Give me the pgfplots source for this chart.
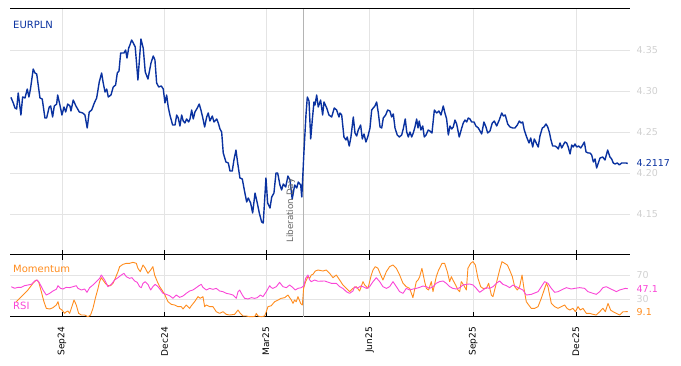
\documentclass[border=0pt]{standalone}
\usepackage{pgfplots}
\pgfplotsset{compat=1.18}
\usepackage{pgfplotstable}
\usepackage{fontspec}
\setmainfont{DejaVu Sans}
\definecolor{fxblue}{RGB}{10,50,160}
\definecolor{momcol}{RGB}{255,140,30}
\definecolor{rsicol}{RGB}{250,70,215}
\definecolor{lblgray}{RGB}{208,208,208}
\definecolor{gridgray}{RGB}{228,228,228}
\definecolor{libgray}{RGB}{180,180,180}
\definecolor{libtext}{RGB}{100,100,100}

% x = days since 1 Sep 2024
\pgfplotstableread{
d p
-45.3 4.2923
-43.2 4.2854
-41.7 4.2793
-40.2 4.2780
-38.8 4.2976
-36.4 4.2707
-34.9 4.2927
-32.8 4.2915
-30.8 4.3024
-29.3 4.2927
-27.8 4.3037
-25.5 4.3268
-24.0 4.3220
-22.4 4.3207
-19.5 4.2915
-17.5 4.2902
-15.1 4.2671
-13.6 4.2671
-11.3 4.2805
-10.0 4.2817
-8.3 4.2683
-6.8 4.2817
-4.7 4.2841
-3.8 4.2951
-1.8 4.2829
0.0 4.2707
1.8 4.2805
3.3 4.2744
5.1 4.2841
7.1 4.2817
8.0 4.2756
10.0 4.2890
12.4 4.2817
15.4 4.2744
18.4 4.2732
20.4 4.2707
22.4 4.2549
24.2 4.2744
26.4 4.2768
28.7 4.2854
30.8 4.2915
33.1 4.3110
35.2 4.3220
36.6 4.3098
38.2 4.2988
39.7 4.3024
41.1 4.2927
43.5 4.2951
45.5 4.3049
47.6 4.3073
49.1 4.3220
50.6 4.3244
52.1 4.3463
53.5 4.3463
55.0 4.3463
56.5 4.3500
57.7 4.3402
59.2 4.3524
60.3 4.3561
61.8 4.3622
63.3 4.3585
65.0 4.3537
67.4 4.3134
70.1 4.3634
72.1 4.3524
73.9 4.3232
76.3 4.3146
79.0 4.3341
81.0 4.3427
82.5 4.3378
84.0 4.3098
85.8 4.3049
88.1 4.3061
89.9 4.3024
91.4 4.2854
92.9 4.2951
94.3 4.2805
95.8 4.2707
98.2 4.2585
100.3 4.2585
101.8 4.2707
103.2 4.2671
104.7 4.2573
106.2 4.2707
107.6 4.2634
109.1 4.2610
110.6 4.2659
112.4 4.2622
113.6 4.2659
115.1 4.2768
116.5 4.2659
118.0 4.2744
120.1 4.2793
121.8 4.2841
123.3 4.2768
124.8 4.2683
126.6 4.2561
128.4 4.2683
129.8 4.2732
131.3 4.2634
133.4 4.2695
134.9 4.2622
137.3 4.2659
138.7 4.2610
140.2 4.2537
141.7 4.2500
143.1 4.2244
145.5 4.2134
147.6 4.2122
149.1 4.2024
151.1 4.2024
152.6 4.2159
154.4 4.2280
155.9 4.2122
157.9 4.1939
160.0 4.1927
161.8 4.1793
163.9 4.1646
165.3 4.1695
167.4 4.1634
169.2 4.1512
171.3 4.1756
173.3 4.1634
175.1 4.1512
177.2 4.1402
178.6 4.1390
181.0 4.1939
182.5 4.1634
184.6 4.1573
186.1 4.1707
188.1 4.1756
189.9 4.2000
191.4 4.2000
193.4 4.1854
194.9 4.1793
196.4 4.1866
198.5 4.1829
200.5 4.1963
202.3 4.1915
204.3 4.1683
206.5 4.1854
208.3 4.1817
209.7 4.1890
211.8 4.1854
212.8 4.1707
214.7 4.2256
216.5 4.2707
217.7 4.2927
219.2 4.2878
220.7 4.2415
222.1 4.2646
223.6 4.2866
224.5 4.2829
226.0 4.2951
227.4 4.2805
229.5 4.2890
231.3 4.2707
232.5 4.2866
234.9 4.2793
236.9 4.2707
239.3 4.2683
241.6 4.2793
243.7 4.2768
245.8 4.2683
246.7 4.2732
248.2 4.2707
250.2 4.2439
252.0 4.2402
253.1 4.2439
254.9 4.2329
256.4 4.2439
258.5 4.2683
260.0 4.2488
261.5 4.2451
262.9 4.2524
265.0 4.2585
266.5 4.2415
268.0 4.2476
269.7 4.2378
271.3 4.2439
273.3 4.2549
274.8 4.2768
276.2 4.2793
277.7 4.2817
279.2 4.2866
280.7 4.2732
282.2 4.2561
283.7 4.2549
285.1 4.2671
287.2 4.2707
289.0 4.2768
291.0 4.2756
292.5 4.2683
294.0 4.2720
295.5 4.2549
297.5 4.2463
299.3 4.2439
301.4 4.2463
302.8 4.2537
304.6 4.2659
305.9 4.2500
307.3 4.2439
308.8 4.2500
310.3 4.2439
311.7 4.2488
313.2 4.2561
314.7 4.2659
315.9 4.2549
317.0 4.2634
318.5 4.2524
320.1 4.2573
321.5 4.2439
323.0 4.2463
325.0 4.2524
326.5 4.2512
328.3 4.2488
330.4 4.2768
332.5 4.2732
334.5 4.2756
336.3 4.2707
338.3 4.2817
339.8 4.2732
341.3 4.2659
342.8 4.2463
344.3 4.2573
345.8 4.2537
347.2 4.2561
348.7 4.2646
350.2 4.2598
352.5 4.2439
354.7 4.2549
356.1 4.2610
357.6 4.2646
359.1 4.2622
360.5 4.2671
362.0 4.2659
363.5 4.2622
365.6 4.2622
367.3 4.2573
369.4 4.2549
372.4 4.2476
374.4 4.2622
376.2 4.2561
377.7 4.2488
379.8 4.2512
381.8 4.2610
383.6 4.2634
385.7 4.2573
388.0 4.2646
390.2 4.2732
391.6 4.2695
393.3 4.2707
395.5 4.2598
397.5 4.2561
399.9 4.2549
401.9 4.2549
404.0 4.2585
405.8 4.2634
407.3 4.2610
408.8 4.2622
410.2 4.2524
412.3 4.2439
414.4 4.2366
415.9 4.2427
417.7 4.2317
419.1 4.2415
421.2 4.2354
422.6 4.2317
424.1 4.2451
426.2 4.2549
427.7 4.2561
429.5 4.2598
431.0 4.2561
432.4 4.2500
433.9 4.2402
435.4 4.2329
437.4 4.2329
438.9 4.2317
440.4 4.2293
441.9 4.2366
443.4 4.2305
444.8 4.2341
446.3 4.2378
447.8 4.2366
449.2 4.2317
450.8 4.2232
452.3 4.2341
453.7 4.2317
455.2 4.2354
456.7 4.2317
458.5 4.2329
460.3 4.2305
462.0 4.2341
463.5 4.2378
465.0 4.2256
467.0 4.2244
468.5 4.2244
470.0 4.2220
471.5 4.2134
473.0 4.2171
474.4 4.2061
475.9 4.2122
477.4 4.2183
479.8 4.2195
481.8 4.2159
484.2 4.2280
486.2 4.2195
487.7 4.2171
489.2 4.2122
490.7 4.2110
492.7 4.2122
494.5 4.2098
496.6 4.2122
498.7 4.2122
500.4 4.2122
502.0 4.2117
}\pricetable

\pgfplotstableread{
d v
-44.9 50.5
-42.0 47.8
-39.0 49.4
-36.1 49.4
-33.1 52.2
-30.2 53.3
-27.2 54.4
-24.2 60.0
-21.9 61.6
-19.8 56.1
-16.8 45.0
-13.9 36.6
-10.9 39.4
-8.0 43.3
-5.0 46.1
-3.5 52.2
-1.2 47.7
0.9 46.6
3.8 49.4
6.8 48.9
9.8 50.5
12.7 52.2
14.2 47.7
17.2 45.0
20.1 46.6
22.2 41.1
24.6 48.9
27.5 53.3
30.5 58.9
33.4 64.4
34.9 70.0
37.9 61.6
40.8 50.5
43.8 54.4
46.7 61.6
49.7 65.5
52.7 70.0
55.0 72.7
57.1 67.2
60.0 64.4
62.1 65.5
64.5 60.0
66.8 57.7
68.9 50.5
70.4 48.9
71.9 56.1
73.9 58.9
76.3 54.4
78.7 45.0
80.7 50.5
82.8 54.4
85.2 50.5
87.5 45.0
89.6 39.4
92.6 37.7
95.5 35.5
98.5 31.1
101.5 36.6
104.4 32.7
107.4 35.0
110.3 39.4
113.3 43.3
116.2 45.0
119.2 48.9
121.6 52.2
123.6 54.4
125.1 49.4
128.1 45.0
131.0 47.7
134.0 46.1
136.9 47.7
139.9 43.3
142.9 42.2
145.8 39.4
148.8 38.3
151.7 36.6
154.7 31.1
156.2 42.2
157.7 45.0
160.0 36.6
162.1 31.1
165.1 30.0
168.0 32.2
171.0 31.1
173.3 32.2
176.0 36.6
178.4 33.9
181.3 42.2
184.3 52.2
185.7 48.9
187.2 47.7
190.2 50.5
193.1 57.7
196.1 50.5
199.1 48.9
202.0 53.3
205.0 48.9
207.0 45.0
209.4 47.7
212.4 48.9
214.7 52.2
216.2 64.4
218.3 70.0
219.8 61.6
221.2 58.9
224.2 61.6
227.2 59.5
233.1 60.0
239.0 56.1
243.4 56.1
246.4 50.5
249.3 47.7
252.3 42.2
255.2 39.4
258.2 43.3
259.7 50.5
262.1 47.7
265.0 51.6
267.1 50.5
270.0 47.7
273.0 50.5
276.0 58.9
278.9 65.5
281.9 58.9
284.8 50.5
287.8 47.7
290.7 50.5
293.7 58.9
296.7 50.5
299.6 42.2
302.6 39.4
305.5 47.7
308.5 45.0
311.4 46.6
314.4 47.7
317.4 49.4
320.3 51.6
323.3 50.5
326.2 47.7
329.2 50.5
332.1 56.1
335.1 58.9
338.1 60.0
341.0 56.1
344.0 50.5
346.9 47.7
349.9 46.6
352.9 48.9
355.8 53.3
358.8 54.4
361.7 55.0
364.7 53.3
367.6 47.7
370.6 41.1
373.6 45.0
376.5 48.9
379.5 47.7
382.4 50.5
385.4 56.1
388.3 60.0
391.3 54.4
394.3 52.2
397.2 48.9
400.2 53.3
403.1 50.5
406.1 47.7
409.0 45.0
412.0 36.6
416.4 37.7
422.4 42.2
428.3 58.9
431.2 56.1
434.2 47.7
437.2 41.1
440.1 42.2
443.1 45.0
447.5 48.9
451.9 46.6
454.9 47.7
459.3 48.9
463.8 47.7
466.7 42.2
471.2 39.4
474.1 37.7
477.1 42.2
480.0 48.9
483.0 50.5
485.9 47.7
488.9 45.0
491.9 42.2
494.8 45.0
497.8 46.6
500.0 47.7
502.0 47.1
}\rsitable

\pgfplotstableread{
d v
-40.5 25.5
-34.6 36.6
-30.2 45.0
-25.7 56.1
-22.8 61.6
-20.7 58.9
-18.3 42.2
-16.0 25.5
-13.9 14.4
-10.9 13.3
-8.0 15.5
-5.0 20.0
-3.5 25.5
-2.1 14.4
0.0 11.6
2.4 6.1
3.9 8.8
5.3 10.0
6.8 6.1
8.3 14.4
10.7 28.3
12.7 20.0
14.8 6.1
17.2 3.3
20.1 3.3
23.1 0.5
25.4 3.3
27.5 14.4
29.6 31.1
32.0 47.7
33.4 58.9
34.9 65.5
36.4 61.6
38.5 56.1
40.8 52.2
43.2 52.2
45.3 56.1
47.3 64.4
49.7 75.5
51.2 83.9
54.1 87.7
57.1 89.4
60.0 89.4
63.0 91.1
66.0 89.4
67.4 81.1
69.5 75.5
71.9 86.6
74.0 81.1
76.3 72.7
78.7 78.3
80.7 83.9
82.2 70.0
84.6 58.9
86.7 50.5
88.7 45.0
91.1 37.7
94.1 25.5
97.0 21.1
100.0 20.0
103.0 17.2
105.9 17.2
107.4 13.3
110.3 20.0
113.3 14.4
114.8 18.8
117.7 25.5
120.7 33.9
122.7 31.1
125.1 33.9
126.6 17.2
128.1 20.0
131.0 17.2
134.0 17.2
136.9 8.8
139.9 6.1
142.9 8.8
145.8 4.4
148.8 3.3
153.2 4.4
156.2 11.6
158.2 6.1
160.6 1.6
163.6 1.6
166.5 0.5
169.5 0.5
171.6 1.6
172.4 6.1
173.9 1.6
176.9 0.5
179.8 1.6
181.3 8.8
182.8 17.2
185.7 18.8
188.7 25.5
191.7 28.3
194.6 31.1
197.6 32.2
200.5 36.6
203.5 28.3
205.0 22.7
206.4 28.3
207.9 25.5
209.4 33.9
211.8 22.7
213.3 20.0
214.4 47.7
216.2 58.9
218.3 67.2
219.8 64.4
221.2 70.0
222.7 71.1
224.8 76.6
227.2 78.3
231.6 76.6
234.5 78.3
237.5 72.7
240.5 65.5
243.4 70.0
246.4 61.6
249.3 53.3
252.3 47.7
255.2 42.2
258.2 47.7
261.2 50.5
264.1 43.3
267.1 58.9
268.6 53.3
271.5 47.7
274.5 70.0
276.0 78.3
278.0 83.9
280.4 81.1
282.8 70.0
284.8 61.6
287.8 75.5
290.7 83.9
293.7 86.6
296.7 81.1
299.6 70.0
302.6 56.1
305.5 50.5
308.5 47.7
311.4 32.2
314.4 58.9
315.9 61.6
317.4 67.2
319.4 81.1
321.8 58.9
323.3 47.7
325.3 45.0
327.7 58.9
329.2 42.2
332.1 67.2
334.2 78.3
337.2 89.4
339.5 89.4
341.9 75.5
344.0 58.9
345.5 67.2
346.9 61.6
349.3 53.3
351.4 45.0
352.9 42.2
354.3 58.9
356.4 53.3
358.8 45.0
360.2 81.1
362.6 89.4
364.7 92.2
366.8 86.6
369.1 64.4
371.5 50.5
373.6 47.7
376.5 47.7
378.6 56.1
381.0 36.6
382.4 33.9
385.4 56.1
388.3 78.3
390.4 92.2
392.8 89.4
395.2 86.6
397.2 78.3
399.6 67.2
401.7 50.5
404.0 45.0
406.1 50.5
408.2 70.0
409.9 47.7
412.0 25.5
414.1 20.0
416.4 14.4
419.4 14.4
422.4 17.2
425.3 31.1
428.3 47.7
429.8 56.1
431.2 50.5
434.2 22.7
437.2 17.2
440.1 14.4
443.1 17.2
446.0 20.0
448.1 14.4
450.5 11.6
453.4 14.4
455.5 8.8
457.9 17.2
459.9 11.6
462.3 14.4
465.2 6.1
468.2 6.1
471.2 4.4
474.1 3.3
477.1 8.8
480.0 14.4
482.1 8.8
484.5 22.7
486.8 11.6
488.9 8.8
491.9 6.1
494.8 3.3
497.8 8.8
500.0 8.8
502.0 9.1
}\momtable

\begin{document}
\begin{tikzpicture}[x=1pt,y=1pt]
\useasboundingbox (0,0) rectangle (681,366);
% ---------- main panel ----------
\begin{axis}[
  at={(10pt,111pt)}, anchor=south west,
  scale only axis, width=620pt, height=246pt,
  xmin=-46.1, xmax=504, ymin=4.10, ymax=4.40,
  clip=false,
  separate axis lines,
  y axis line style={draw=none},
  x axis line style={black, line width=1pt},
  xtick={0,91,181,273,365,456}, xticklabels={},
  xtick pos=bottom, tick align=inside,
  major tick length=5pt,
  xtick style={black, line width=0.8pt},
  ytick={4.15,4.20,4.25,4.30,4.35},
  yticklabels={4.15,4.20,4.25,4.30,4.35},
  yticklabel pos=right,
  ytick style={draw=none},
  yticklabel style={font=\fontsize{9.5}{11}\selectfont, text=lblgray, inner sep=0pt, anchor=west, xshift=6.5pt},
  xmajorgrids, ymajorgrids,
  grid style={gridgray, line width=0.8pt},
]
\addplot[libgray, line width=0.8pt] coordinates {(213.9,4.10) (213.9,4.40)};
\addplot[fxblue, line width=1.4pt, line join=round] table[x=d, y=p] {\pricetable};
\node[rotate=90, anchor=base west, inner sep=0pt, text=libtext, font=\fontsize{8.8}{10}\selectfont] at (axis cs:205,4.1146) {Liberation Day};
\node[anchor=west, inner sep=0pt, text=fxblue, font=\fontsize{9.5}{11}\selectfont, xshift=6.5pt] at (axis cs:504,4.2117) {4.2117};
\end{axis}
% ---------- indicator panel ----------
\begin{axis}[
  at={(10pt,49pt)}, anchor=south west,
  scale only axis, width=620pt, height=62pt,
  xmin=-46.1, xmax=504, ymin=0, ymax=103.3,
  clip=false,
  separate axis lines,
  y axis line style={draw=none},
  x axis line style={black, line width=1pt},
  xtick={0,91,181,273,365,456},
  xticklabels={Sep24,Dec24,Mar25,Jun25,Sep25,Dec25},
  xtick pos=both, tick align=inside,
  major tick length=5pt,
  xtick style={black, line width=0.8pt},
  xticklabel style={font=\fontsize{9}{11}\selectfont, rotate=90, anchor=east, inner sep=0pt},
  xticklabel shift=10pt,
  ytick={30,70},
  yticklabels={30,70},
  yticklabel pos=right,
  ytick style={draw=none},
  yticklabel style={font=\fontsize{9.5}{11}\selectfont, text=lblgray, inner sep=0pt, anchor=west, xshift=6.5pt},
  xmajorgrids, ymajorgrids,
  grid style={gridgray, line width=0.8pt},
]
\addplot[libgray, line width=0.8pt] coordinates {(213.9,0) (213.9,103.3)};
\addplot[momcol, line width=0.9pt, line join=round] table[x=d, y=v] {\momtable};
\addplot[rsicol, line width=0.9pt, line join=round] table[x=d, y=v] {\rsitable};
\node[anchor=west, inner sep=0pt, text=rsicol, font=\fontsize{9.5}{11}\selectfont, xshift=6.5pt] at (axis cs:504,47.1) {47.1};
\node[anchor=west, inner sep=0pt, text=momcol, font=\fontsize{9.5}{11}\selectfont, xshift=6.5pt] at (axis cs:504,8.5) {9.1};
\end{axis}
% ---------- panel titles ----------
\node[anchor=base west, inner sep=0pt, text=fxblue, font=\fontsize{10}{12}\selectfont] at (13,337) {EURPLN};
\node[anchor=base west, inner sep=0pt, text=momcol, font=\fontsize{10}{12}\selectfont] at (13,93.3) {Momentum};
\node[anchor=base west, inner sep=0pt, text=rsicol, font=\fontsize{10}{12}\selectfont] at (13,56) {RSI};
\end{tikzpicture}
\end{document}
